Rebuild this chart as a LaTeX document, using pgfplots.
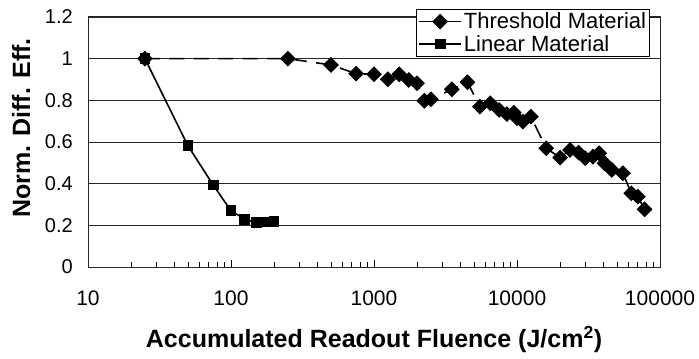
\documentclass[border=0pt]{standalone}
\usepackage{fontspec}
\setmainfont{Liberation Sans}
\usepackage{pgfplots}
\pgfplotsset{compat=1.18}
\newcommand\fs[1]{\fontsize{#1}{#1}\selectfont}
\begin{document}
\begin{tikzpicture}[x=1bp,y=1bp]
\begin{axis}[
  at={(0,0)}, anchor=south west,
  scale only axis, width=572bp, height=250bp,
  xmode=log, log basis x=10,
  xmin=10, xmax=100000, ymin=0, ymax=1.2,
  xtick={10,100,1000,10000,100000},
  xticklabels={10,100,1000,10000,100000},
  minor xtick={20,30,40,50,60,70,80,90,200,300,400,500,600,700,800,900,2000,3000,4000,5000,6000,7000,8000,9000,20000,30000,40000,50000,60000,70000,80000,90000},
  ytick={0,0.2,0.4,0.6,0.8,1,1.2},
  yticklabels={0,0.2,0.4,0.6,0.8,1,1.2},
  ymajorgrids,
  major grid style={black!85, line width=0.8bp},
  y tick style={draw=none},
  tick align=inside,
  xtick pos=left,
  major tick length=7bp, minor tick length=5bp,
  x tick style={black, line width=0.8bp},
  axis line style={black!85, line width=1bp},
  xticklabel style={font=\fs{21bp}, inner sep=0pt, yshift=-24bp},
  yticklabel style={font=\fs{20bp}, inner sep=0pt, xshift=-15bp},
  xlabel={\bfseries Accumulated Readout Fluence (J/cm\textsuperscript{2})},
  ylabel={\bfseries Norm. Diff. Eff.},
  xlabel style={font=\fs{25bp}, at={(axis description cs:0.5,-0.288)}, anchor=center},
  ylabel style={font=\fs{25bp}, at={(axis description cs:-0.117,0.556)}, anchor=center},
  legend style={at={(rel axis cs:0.9825,1.032)}, anchor=north east, draw=black, line width=0.8bp, fill=white, font=\fs{22bp}, inner sep=1.5bp, row sep=1bp, cells={anchor=west}},
  legend image code/.code={\draw[mark repeat=2,mark phase=2] plot coordinates {(0bp,0bp)(21bp,0bp)(42bp,0bp)};},
]
\addlegendimage{black, line width=1.6bp, mark=square*, mark size=4.8bp, mark options={rotate=45, solid, fill=black}}
\addlegendentry{Threshold Material}
\addlegendimage{black, line width=1.6bp, mark=square*, mark size=4.6bp, mark options={solid, fill=black}}
\addlegendentry{Linear Material}
\addplot[black, line width=1.6bp, dash pattern=on 15bp off 9.5bp, mark=square*, mark size=4.8bp, mark options={rotate=45, solid, fill=black}, forget plot] coordinates {
(25,1.0) (250,1.0) (500,0.97) (750,0.928) (1000,0.925) (1250,0.901) (1500,0.925) (1750,0.898) (2000,0.882) (2250,0.798) (2500,0.805) (3500,0.853) (4500,0.887) (5500,0.770) (6500,0.786) (7500,0.754) (8500,0.734) (9500,0.741) (10000,0.714) (11000,0.698) (12500,0.722) (16000,0.570) (20000,0.525) (23500,0.562) (27000,0.549) (30000,0.522) (34000,0.530) (37500,0.546) (41000,0.498) (46000,0.466) (55000,0.450) (63000,0.354) (70000,0.338) (78000,0.277)
};
\addplot[black, line width=1.6bp, mark=square*, mark size=4.6bp, mark options={solid, fill=black}, forget plot] coordinates {
(25,1.0) (50,0.582) (75,0.394) (100,0.27) (125,0.229) (150,0.213) (175,0.216) (200,0.22)
};
\end{axis}
\pgfresetboundingbox
\path (-88,-91) rectangle (611,267);
\end{tikzpicture}
\end{document}
